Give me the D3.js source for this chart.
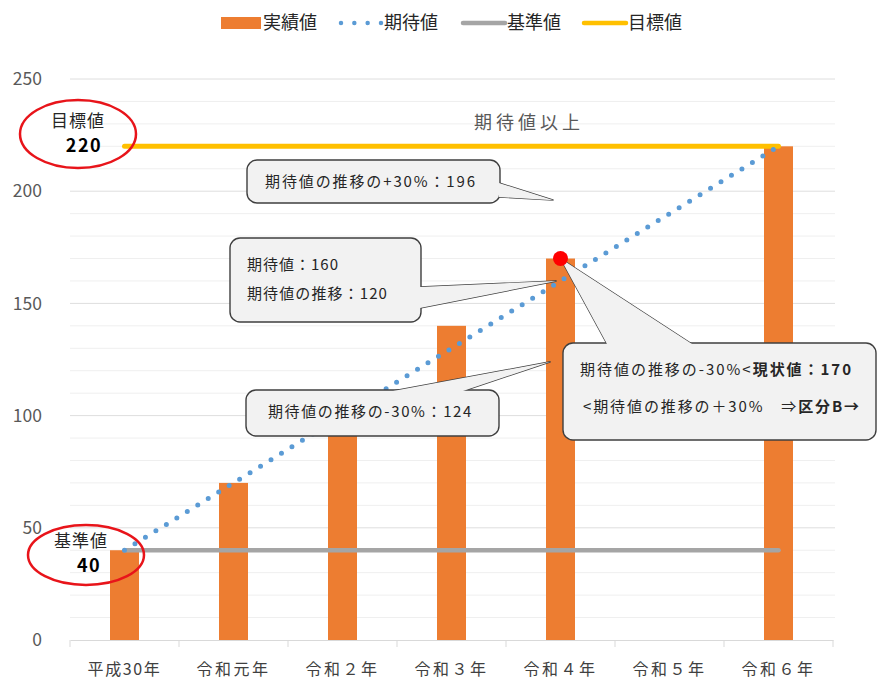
<!DOCTYPE html>
<html>
<head>
<meta charset="utf-8">
<script src="https://cdn.jsdelivr.net/npm/d3@7"></script>
<style>
  body { margin: 0; background: #fff; }
  text { font-family: "Noto Sans CJK JP", "Noto Sans", sans-serif; }
</style>
</head>
<body>
<script>
// metrics
const width = 878, height = 686;
const plotLeft = 70, plotRight = 833, plotTop = 79, plotBottom = 640;

// data
const categories = ['平成30年', '令和元年', '令和２年', '令和３年', '令和４年', '令和５年', '令和６年'];
const actual = [40, 70, 100, 140, 170, null, 220];
const expected = [40, 70, 100, 130, 160, 190, 220];
const baseValue = 40, targetValue = 220;
const yTicks = [0, 50, 100, 150, 200, 250];
const legendItems = ['実績値', '期待値', '基準値', '目標値'];

// colours
const orange = '#ed7d31', blue = '#5b9bd5', gray = '#a5a5a5', yellow = '#ffc000';

const svg = d3.select('body').append('svg')
    .attr('width', width)
    .attr('height', height);

// stretch a text to a given width with letter spacing
const fit = (sel, target) => {
    const node = sel.node();
    const n = node.getComputedTextLength();
    const chars = node.textContent.length;
    sel.attr('letter-spacing', Math.max(-1, (target - n) / chars));
};

// scales
const xScale = d3.scaleBand().domain(categories).range([plotLeft, plotRight]);
const yScale = d3.scaleLinear().domain([0, 250]).range([plotBottom, plotTop]);
const cx = c => xScale(c) + xScale.bandwidth() / 2;

// grid
svg.append('g').selectAll('line')
    .data(d3.range(10, 251, 10))
    .join('line')
    .attr('x1', plotLeft).attr('x2', plotRight + 2)
    .attr('y1', d => yScale(d)).attr('y2', d => yScale(d))
    .attr('stroke', d => d % 50 === 0 ? '#dedede' : '#efefef')
    .attr('stroke-width', 1);

// y axis labels
svg.append('g').selectAll('text')
    .data(yTicks)
    .join('text')
    .attr('x', 42).attr('y', d => yScale(d))
    .attr('dy', '0.35em')
    .attr('text-anchor', 'end')
    .attr('font-size', 17.5)
    .attr('fill', '#595959')
    .text(d => d);

// x axis
const xAxis = svg.append('g')
    .attr('transform', `translate(0, ${plotBottom})`)
    .call(d3.axisBottom(xScale).tickSize(0).tickPadding(20));
xAxis.select('.domain').attr('stroke', '#d9d9d9');
xAxis.selectAll('text')
    .attr('font-size', 16)
    .attr('dy', '0.95em')
    .attr('fill', '#404040')
    .style('font-family', '"Noto Sans CJK JP", sans-serif')
    .each(function() { fit(d3.select(this), 74); });
svg.append('g').selectAll('line')
    .data(d3.range(categories.length + 1))
    .join('line')
    .attr('x1', i => plotLeft + i * xScale.step()).attr('x2', i => plotLeft + i * xScale.step())
    .attr('y1', plotBottom).attr('y2', plotBottom + 7)
    .attr('stroke', '#d9d9d9');

// bars
const barW = 29;
svg.append('g').selectAll('rect')
    .data(categories.map((c, i) => ({c, v: actual[i]})).filter(d => d.v != null))
    .join('rect')
    .attr('x', d => cx(d.c) - barW / 2)
    .attr('y', d => yScale(d.v))
    .attr('width', barW)
    .attr('height', d => yScale(0) - yScale(d.v))
    .attr('fill', orange);

// base & target lines
const first = categories[0], last = categories[categories.length - 1];
svg.append('line')
    .attr('x1', cx(first)).attr('x2', cx(last))
    .attr('y1', yScale(baseValue)).attr('y2', yScale(baseValue))
    .attr('stroke', gray).attr('stroke-width', 4.5).attr('stroke-linecap', 'round');
svg.append('line')
    .attr('x1', cx(first)).attr('x2', cx(last))
    .attr('y1', yScale(targetValue)).attr('y2', yScale(targetValue))
    .attr('stroke', yellow).attr('stroke-width', 5).attr('stroke-linecap', 'round');

// expected dotted line
const line = d3.line().x((d, i) => cx(categories[i])).y(d => yScale(d));
svg.append('path')
    .attr('d', line(expected))
    .attr('fill', 'none')
    .attr('stroke', blue)
    .attr('stroke-width', 5)
    .attr('stroke-linecap', 'round')
    .attr('stroke-dasharray', '0 12.3');

// text above target
const above = svg.append('text')
    .attr('x', 474).attr('y', 123)
    .attr('dy', '0.35em')
    .attr('font-size', 18)
    .attr('fill', '#595959')
    .text('期待値以上');
fit(above, 110);

// callouts
const fill = '#f2f2f2', edge = '#3f3f3f';
function callout(box, base, tip, lines) {
    const g = svg.append('g');
    g.append('path')
        .attr('d', `M${base[0][0]},${base[0][1]}L${tip[0]},${tip[1]}L${base[1][0]},${base[1][1]}`)
        .attr('fill', fill).attr('stroke', edge).attr('stroke-width', 1.4);
    g.append('rect')
        .attr('x', box.x).attr('y', box.y)
        .attr('width', box.w).attr('height', box.h)
        .attr('rx', 10)
        .attr('fill', fill).attr('stroke', edge).attr('stroke-width', 1.4);
    g.append('path')
        .attr('d', `M${base[0][0]},${base[0][1]}L${tip[0]},${tip[1]}L${base[1][0]},${base[1][1]}Z`)
        .attr('fill', fill);
    lines.forEach(l => {
        const t = g.append('text')
            .attr('x', l.x).attr('y', l.y)
            .attr('dy', '0.35em')
            .attr('font-size', 15)
            .attr('fill', '#262626');
        l.parts.forEach(p => t.append('tspan')
            .attr('font-weight', p.bold ? 'bold' : null)
            .text(p.t));
        fit(t, l.w);
    });
}

const tipX = cx(categories[4]) - 7;
callout({x: 247, y: 160, w: 253, h: 43}, [[499, 183], [499, 197]], [tipX, yScale(196)],
    [{x: 265, y: 182, w: 212, parts: [{t: '期待値の推移の+30%：196'}]}]);
callout({x: 230, y: 238, w: 191, h: 84}, [[420, 287], [420, 308]], [tipX + 3, yScale(160)],
    [{x: 247, y: 265, w: 92, parts: [{t: '期待値：160'}]},
     {x: 247, y: 294, w: 141, parts: [{t: '期待値の推移：120'}]}]);
callout({x: 246, y: 390, w: 253, h: 46}, [[393, 391], [463, 391]], [tipX - 3, yScale(124)],
    [{x: 268, y: 412, w: 205, parts: [{t: '期待値の推移の-30%：124'}]}]);
callout({x: 563, y: 343, w: 313, h: 97}, [[607, 344], [692, 344]], [cx(categories[4]), yScale(170)],
    [{x: 580, y: 370, w: 273, parts: [{t: '期待値の推移の-30%<'}, {t: '現状値：170', bold: true}]},
     {x: 583, y: 407, w: 278, parts: [{t: '<期待値の推移の＋30%　⇒'}, {t: '区分B→', bold: true}]}]);

// red dot on current value
svg.append('circle')
    .attr('cx', cx(categories[4])).attr('cy', yScale(actual[4]))
    .attr('r', 7.5).attr('fill', '#ff0000');

// ellipses with a two-line label
function marker(cxp, cyp, rx, ry, label, lx, ly, value, vx) {
    svg.append('ellipse')
        .attr('cx', cxp).attr('cy', cyp).attr('rx', rx).attr('ry', ry)
        .attr('fill', 'none').attr('stroke', '#e8141a').attr('stroke-width', 2.5);
    const t = svg.append('text')
        .attr('y', ly)
        .attr('text-anchor', 'middle')
        .attr('font-size', 17).attr('fill', '#262626');
    t.append('tspan').attr('x', lx).attr('dy', '0.35em').attr('letter-spacing', 1).text(label);
    t.append('tspan').attr('x', vx).attr('dy', 25)
        .attr('font-size', 18)
        .attr('font-weight', 'bold').attr('fill', '#000')
        .attr('letter-spacing', 1.5)
        .text(value);
}
marker(78, 134, 58, 34, '目標値', 78, 121, targetValue, 84);
marker(86, 555, 58, 30, '基準値', 81, 541, baseValue, 89);

// legend
const legend = svg.append('g').attr('transform', 'translate(0, 23)');
legend.append('rect').attr('x', 221).attr('y', -6).attr('width', 40).attr('height', 12).attr('fill', orange);
legend.append('line').attr('x1', 341).attr('x2', 381).attr('y1', 0).attr('y2', 0)
    .attr('stroke', blue).attr('stroke-width', 4.5).attr('stroke-linecap', 'round').attr('stroke-dasharray', '0 13.33');
legend.append('line').attr('x1', 463).attr('x2', 505).attr('y1', 0).attr('y2', 0)
    .attr('stroke', gray).attr('stroke-width', 4.5).attr('stroke-linecap', 'round');
legend.append('line').attr('x1', 584).attr('x2', 626).attr('y1', 0).attr('y2', 0)
    .attr('stroke', yellow).attr('stroke-width', 4.5).attr('stroke-linecap', 'round');
legend.selectAll('text')
    .data(legendItems)
    .join('text')
    .attr('x', (d, i) => [263, 384, 507, 628][i])
    .attr('y', 0).attr('dy', '0.35em')
    .attr('font-size', 18).attr('fill', '#262626')
    .text(d => d);
</script>
</body>
</html>
